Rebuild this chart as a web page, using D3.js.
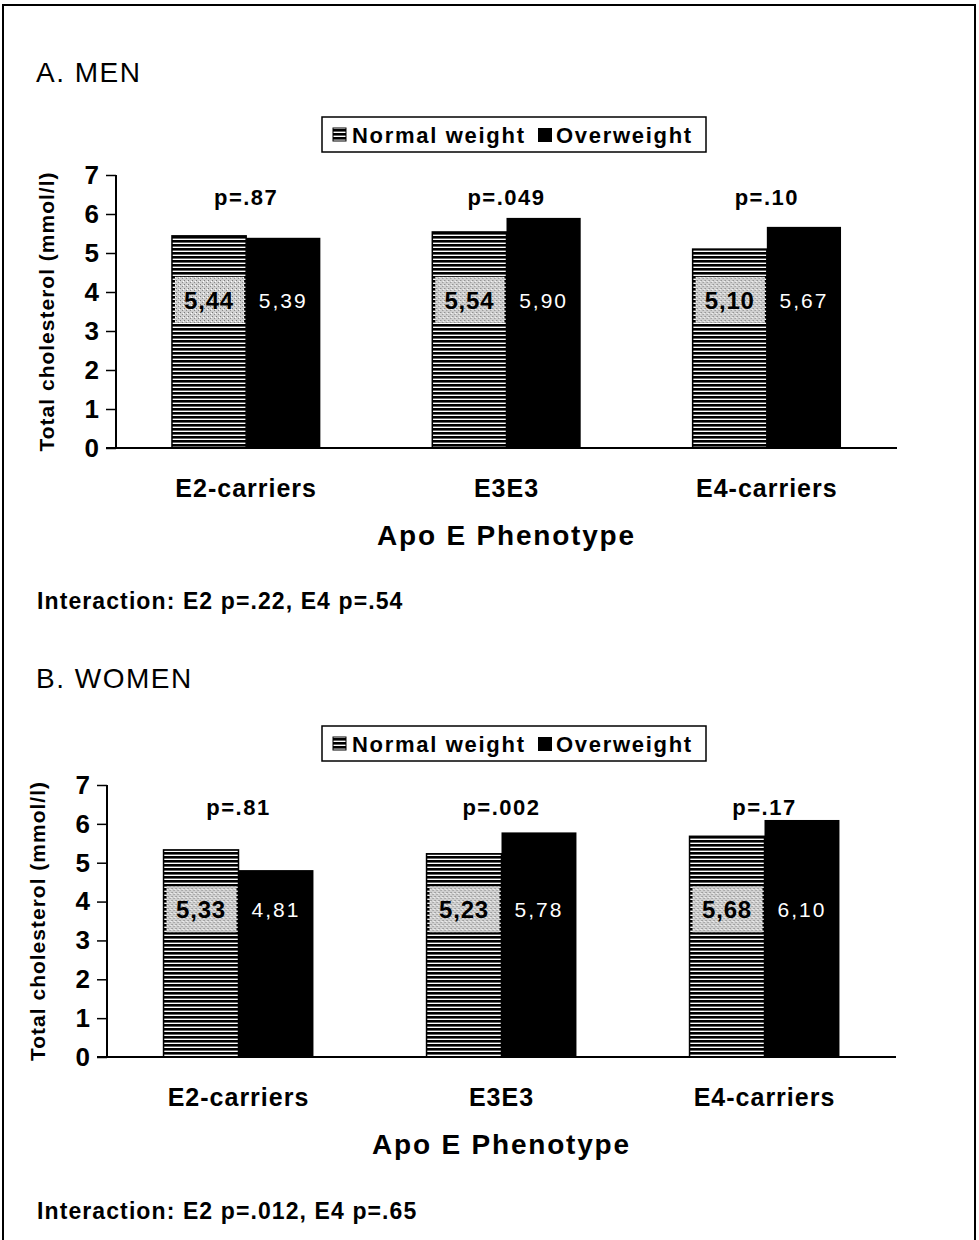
<!DOCTYPE html>
<html lang="en">
<head>
<meta charset="UTF-8">
<title>Total cholesterol by Apo E phenotype</title>
<script src="https://d3js.org/d3.v7.min.js"></script>
<style>
    body { margin: 0; background: #fff; }
    svg { display: block; font-family: "Liberation Sans", Arial, sans-serif; }
</style>
</head>
<body>
<svg width="979" height="1240"></svg>
<script>
    // data
    const categories = ["E2-carriers", "E3E3", "E4-carriers"];
    const seriesNames = ["Normal weight", "Overweight"];
    const menNormal = [5.44, 5.54, 5.10];
    const menOver = [5.39, 5.90, 5.67];
    const womenNormal = [5.33, 5.23, 5.68];
    const womenOver = [4.81, 5.78, 6.10];
    const menP = ["p=.87", "p=.049", "p=.10"];
    const womenP = ["p=.81", "p=.002", "p=.17"];
    const yTicks = [0, 1, 2, 3, 4, 5, 6, 7];
    const labelLevel = 3.8; // value labels sit at this height

    const svg = d3.select("svg");

    // patterns
    const defs = svg.append("defs");
    const stripes = defs.append("pattern")
        .attr("id", "stripes").attr("patternUnits", "userSpaceOnUse")
        .attr("width", 8).attr("height", 4);
    stripes.append("rect").attr("width", 8).attr("height", 4).attr("fill", "#fff");
    stripes.append("rect").attr("width", 8).attr("height", 2.6).attr("fill", "#000");

    const dots = defs.append("pattern")
        .attr("id", "dots").attr("patternUnits", "userSpaceOnUse")
        .attr("width", 4).attr("height", 4);
    dots.append("rect").attr("width", 4).attr("height", 4).attr("fill", "#d0d0d0");
    dots.append("rect").attr("x", 0).attr("y", 0).attr("width", 1).attr("height", 1).attr("fill", "#777");
    dots.append("rect").attr("x", 2).attr("y", 2).attr("width", 1).attr("height", 1).attr("fill", "#888");
    dots.append("rect").attr("x", 3).attr("y", 1).attr("width", 1).attr("height", 1).attr("fill", "#fff");

    // outer frame
    svg.append("rect")
        .attr("x", 3).attr("y", 5).attr("width", 972).attr("height", 1250)
        .attr("fill", "none").attr("stroke", "#000").attr("stroke-width", 2);

    const fmt = v => d3.format(".2f")(v).replace(".", ",");

    function drawPanel(cfg) {
        const g = svg.append("g");

        g.append("text")
            .attr("x", 36).attr("y", cfg.titleY)
            .attr("font-size", 28).attr("letter-spacing", 1.5)
            .text(cfg.title);

        // legend
        const lg = g.append("g").attr("transform", `translate(322,${cfg.legendY})`);
        lg.append("rect").attr("width", 384).attr("height", 35)
            .attr("fill", "#fff").attr("stroke", "#000").attr("stroke-width", 1.5);
        lg.append("rect").attr("x", 11).attr("y", 11).attr("width", 13).attr("height", 13)
            .attr("fill", "url(#stripes)").attr("stroke", "#000").attr("stroke-width", 1);
        lg.append("text").attr("x", 30).attr("y", 26)
            .attr("font-size", 22).attr("font-weight", "bold").attr("letter-spacing", 1.7)
            .text(seriesNames[0]);
        lg.append("rect").attr("x", 216).attr("y", 11).attr("width", 14).attr("height", 14)
            .attr("fill", "#000");
        lg.append("text").attr("x", 234).attr("y", 26)
            .attr("font-size", 22).attr("font-weight", "bold").attr("letter-spacing", 1.7)
            .text(seriesNames[1]);

        const x = d3.scaleBand().domain(categories)
            .range([cfg.left, cfg.right]).paddingInner(0.43).paddingOuter(0.215);
        const xs = d3.scaleBand().domain(seriesNames).range([0, x.bandwidth()]);
        const y = d3.scaleLinear().domain([0, 7]).range([cfg.bottom, cfg.top]);

        // y axis
        const yAxis = g.append("g")
            .attr("transform", `translate(${cfg.left},0)`)
            .call(d3.axisLeft(y).tickValues(yTicks).tickSize(10).tickPadding(7).tickFormat(d3.format("d")));
        yAxis.select(".domain").attr("stroke-width", 2).attr("d", `M0,${cfg.top}V${cfg.bottom}`);
        yAxis.selectAll(".tick line").attr("stroke-width", 1.5);
        yAxis.selectAll(".tick text")
            .attr("font-family", "Liberation Sans, Arial, sans-serif")
            .attr("font-size", 26).attr("font-weight", "bold").attr("fill", "#000");

        g.append("text")
            .attr("transform", `translate(${cfg.left - 62},${(cfg.top + cfg.bottom) / 2}) rotate(-90)`)
            .attr("text-anchor", "middle").attr("font-size", 21).attr("font-weight", "bold")
            .attr("letter-spacing", 1)
            .text("Total cholesterol (mmol/l)");

        const rows = categories.map((c, i) => ({
            cat: c, normal: cfg.normal[i], over: cfg.over[i], p: cfg.p[i]
        }));

        const grp = g.selectAll(".grp").data(rows).join("g")
            .attr("transform", d => `translate(${x(d.cat)},0)`);

        grp.append("rect")
            .attr("x", xs(seriesNames[0])).attr("width", xs.bandwidth())
            .attr("y", d => y(d.normal)).attr("height", d => y(0) - y(d.normal))
            .attr("fill", "url(#stripes)").attr("stroke", "#000").attr("stroke-width", 1.5);
        grp.append("rect")
            .attr("x", xs(seriesNames[1])).attr("width", xs.bandwidth())
            .attr("y", d => y(d.over)).attr("height", d => y(0) - y(d.over))
            .attr("fill", "#000");

        // value labels
        grp.append("rect")
            .attr("x", xs(seriesNames[0]) + 3).attr("width", xs.bandwidth() - 5)
            .attr("y", y(labelLevel) - 23).attr("height", 46)
            .attr("fill", "url(#dots)");
        grp.append("text")
            .attr("x", xs(seriesNames[0]) + xs.bandwidth() / 2).attr("y", y(labelLevel) + 9)
            .attr("text-anchor", "middle").attr("font-size", 24).attr("font-weight", "bold")
            .attr("letter-spacing", 0.8)
            .text(d => fmt(d.normal));
        grp.append("text")
            .attr("x", xs(seriesNames[1]) + xs.bandwidth() / 2).attr("y", y(labelLevel) + 8)
            .attr("text-anchor", "middle").attr("font-size", 21).attr("letter-spacing", 2)
            .attr("fill", "#fff")
            .text(d => fmt(d.over));

        // p values
        grp.append("text")
            .attr("x", x.bandwidth() / 2).attr("y", cfg.top + 30)
            .attr("text-anchor", "middle").attr("font-size", 22).attr("font-weight", "bold")
            .attr("letter-spacing", 1.5)
            .text(d => d.p);

        // x axis line
        g.append("line")
            .attr("x1", cfg.left - 10).attr("x2", cfg.right)
            .attr("y1", y(0)).attr("y2", y(0))
            .attr("stroke", "#000").attr("stroke-width", 2);

        grp.append("text")
            .attr("x", x.bandwidth() / 2).attr("y", cfg.bottom + 49)
            .attr("text-anchor", "middle").attr("font-size", 25).attr("font-weight", "bold")
            .attr("letter-spacing", 1)
            .text(d => d.cat);

        g.append("text")
            .attr("x", (cfg.left + cfg.right) / 2).attr("y", cfg.bottom + 97)
            .attr("text-anchor", "middle").attr("font-size", 28).attr("font-weight", "bold")
            .attr("letter-spacing", 1.8)
            .text("Apo E Phenotype");

        g.append("text")
            .attr("x", 37).attr("y", cfg.noteY)
            .attr("font-size", 23).attr("font-weight", "bold").attr("letter-spacing", 1.1)
            .text(cfg.note);
    }

    drawPanel({
        title: "A. MEN", titleY: 82, legendY: 117,
        left: 116, right: 897, top: 175, bottom: 448,
        normal: menNormal, over: menOver, p: menP,
        note: "Interaction: E2 p=.22, E4 p=.54", noteY: 609
    });

    drawPanel({
        title: "B. WOMEN", titleY: 688, legendY: 726,
        left: 107, right: 896, top: 785, bottom: 1057,
        normal: womenNormal, over: womenOver, p: womenP,
        note: "Interaction: E2 p=.012, E4 p=.65", noteY: 1219
    });
</script>
</body>
</html>
